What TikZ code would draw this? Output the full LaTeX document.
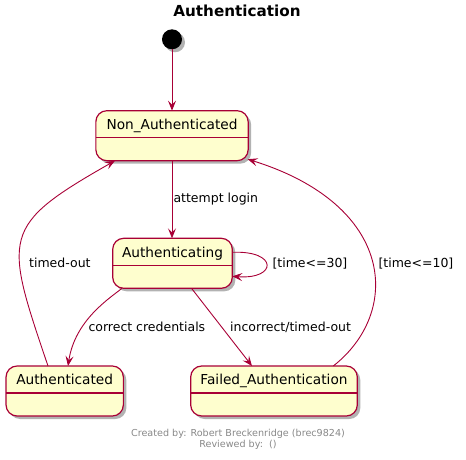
\documentclass[tikz,border=0pt]{standalone}
\usepackage{fontspec}
\setmainfont{DejaVu Sans}
\usetikzlibrary{arrows.meta,shadows}
\definecolor{umlred}{HTML}{A80036}
\definecolor{umlfill}{HTML}{FEFECE}
\definecolor{footgray}{HTML}{888888}
\tikzset{
  umlshadow/.style={drop shadow={shadow xshift=3pt, shadow yshift=-3pt, fill=black, opacity=.3}},
  state/.style={draw=umlred, fill=umlfill, line width=1.2pt, rounded corners=11pt,
    minimum height=50pt, inner sep=0pt, outer sep=0pt, umlshadow,
    path picture={\draw[umlred, line width=1.2pt] ([yshift=-2pt]path picture bounding box.west) -- ([yshift=-2pt]path picture bounding box.east);}},
  statename/.style={anchor=base, inner sep=0pt, font=\fontsize{13.7}{16}\selectfont},
  trans/.style={draw=umlred, line width=0.9pt, -{Stealth[length=10pt, width=8pt, inset=4pt]}},
  translabel/.style={anchor=base west, inner sep=0pt, font=\fontsize{12.5}{15}\selectfont},
  footer/.style={anchor=base, inner sep=0pt, text=footgray, font=\fontsize{9.6}{11}\selectfont}
}
\begin{document}
\begin{tikzpicture}[x=1pt, y=-1pt]
  \useasboundingbox (0,0) rectangle (466,460);
  \node[anchor=base, inner sep=0pt, font=\fontsize{15.2}{18}\selectfont\bfseries] (title) at (237,16.7) {Authentication};
  \node[circle, fill=black, minimum size=20pt, inner sep=0pt, outer sep=0pt, umlshadow] (init) at (172,39.3) {};
  % states
  \foreach \n/\x/\y/\w/\t in {nonauth/172/135.7/152.3/Non\_Authenticated, authing/172.5/263.3/119.6/Authenticating,
      authed/64.7/391/117.3/Authenticated, failed/274/391/166.6/Failed\_Authentication} {
    \node[state, minimum width=\w pt] (\n) at (\x,\y) {};
    \node[statename] (\n name) at ([yshift=-18.7pt]\n.north) {\t};
  }
  % transitions
  \draw[trans] (init.south) -- (init.south |- nonauth.north);
  \draw[trans] (nonauth.south) -- (nonauth.south |- authing.north);
  \draw[trans] ([yshift=11pt]authing.east) .. controls +(46,-2) and +(45,3.3) .. ([yshift=-13pt]authing.east);
  \draw[trans] ([xshift=-50.5pt]authing.south) .. controls (110,298) and (75,320) .. ([xshift=3.3pt]authed.north);
  \draw[trans] ([xshift=19pt]authing.south) -- ([xshift=-22pt]failed.north);
  \draw[trans] ([xshift=-16.7pt]authed.north) .. controls (4,236) and (0,226) .. ([xshift=-57pt]nonauth.south);
  \draw[trans] ([xshift=59.3pt]failed.north) .. controls (402,312) and (395,205) .. ([shift={(-0.5pt,1.5pt)}]nonauth.south east);
  % labels
  \node[translabel] (loginlabel) at (173.3,202.7) {attempt login};
  \node[translabel] (waitlabel) at (272.3,267.5) {[time<=30]};
  \node[translabel] (timeoutlabel) at (29,267.5) {timed-out};
  \node[translabel] (lockedlabel) at (378.3,267.5) {[time<=10]};
  \node[translabel] (okaylabel) at (88.3,331.3) {correct credentials};
  \node[translabel] (wronglabel) at (230,331.3) {incorrect/timed-out};
  \node[footer] (createdby) at (238,436) {Created by: Robert Breckenridge (brec9824)};
  \node[footer] (reviewedby) at (238,447.3) {Reviewed by:~~()};
\end{tikzpicture}
\end{document}
